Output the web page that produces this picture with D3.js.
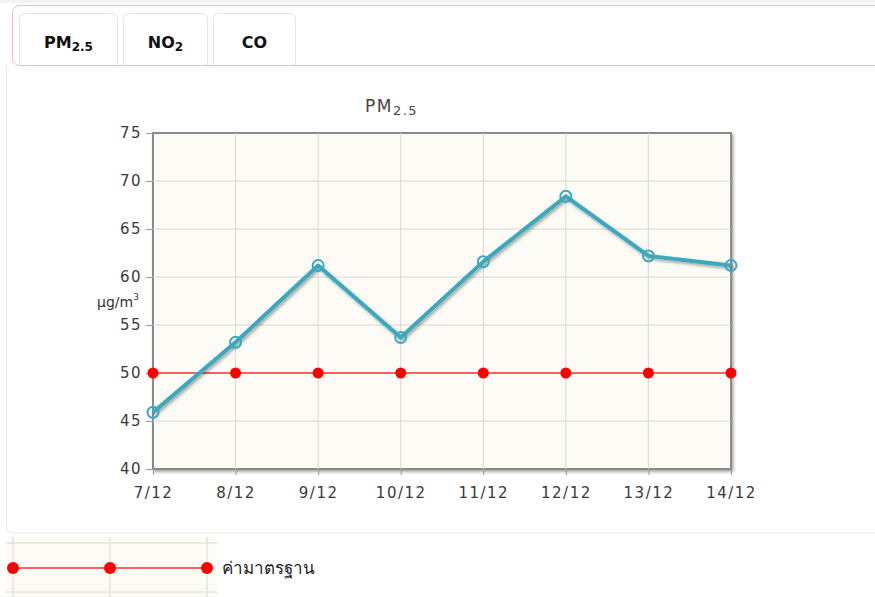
<!DOCTYPE html>
<html>
<head>
<meta charset="utf-8">
<script src="https://cdn.jsdelivr.net/npm/d3@7"></script>
<style>
  html, body { margin: 0; padding: 0; background: #fff; }
  body { width: 875px; height: 597px; overflow: hidden; }
</style>
</head>
<body>
<div id="chart"></div>
<script>
// Data
const days = ["7/12", "8/12", "9/12", "10/12", "11/12", "12/12", "13/12", "14/12"];
const pm25 = [45.9, 53.2, 61.2, 53.7, 61.6, 68.4, 62.2, 61.2];
const standard = [50, 50, 50, 50, 50, 50, 50, 50];
const yTicks = [40, 45, 50, 55, 60, 65, 70, 75];
const tabs = ["PM", "NO", "CO"];
const tabSubs = ["2.5", "2", ""];
const legendLabel = "ค่ามาตรฐาน";

const W = 875,
  H = 597;
const font = "'DejaVu Sans', 'Noto Sans', sans-serif";

const svg = d3
  .select("#chart")
  .append("svg")
  .attr("width", W)
  .attr("height", H)
  .style("font-family", font);

/*******************************************************
 *                    Page frame                       *
 *******************************************************/

const defs = svg.append("defs");
const shadow = defs.append("filter").attr("id", "shadow").attr("x", "-10%").attr("y", "-10%").attr("width", "130%").attr("height", "130%");
shadow.append("feDropShadow").attr("dx", 1.5).attr("dy", 2).attr("stdDeviation", 1.5).attr("flood-color", "#000").attr("flood-opacity", 0.35);

svg.append("rect").attr("x", 0).attr("y", 0).attr("width", W).attr("height", 3).attr("fill", "#f3f3f3");

// content panel (only left and bottom edges show)
svg
  .append("path")
  .attr("d", "M6.5,65 L6.5,526 Q6.5,533 13.5,533 L" + (W + 10) + ",533")
  .attr("fill", "none")
  .attr("stroke", "#e9e9e9");

// tab bar
svg
  .append("rect")
  .attr("x", 12.5)
  .attr("y", 5.5)
  .attr("width", W + 20)
  .attr("height", 60)
  .attr("rx", 7)
  .attr("fill", "#fff")
  .attr("stroke", "#efbcbc");

const tabX = [19, 123, 213],
  tabW = [98, 84, 82];
tabs.forEach((t, i) => {
  const x0 = tabX[i] + 0.5,
    w = tabW[i],
    y0 = 13.5,
    r = 6;
  svg
    .append("path")
    .attr(
      "d",
      `M${x0},65 L${x0},${y0 + r} Q${x0},${y0} ${x0 + r},${y0} L${x0 + w - r},${y0} Q${x0 + w},${y0} ${x0 + w},${y0 + r} L${x0 + w},65`
    )
    .attr("fill", "#fff")
    .attr("stroke", "#e4e4e4");
  const txt = svg
    .append("text")
    .attr("x", x0 + w / 2)
    .attr("y", 48)
    .attr("text-anchor", "middle")
    .attr("font-size", 16)
    .attr("font-weight", "bold")
    .attr("fill", "#111");
  txt.append("tspan").text(t);
  if (tabSubs[i]) txt.append("tspan").attr("font-size", 12).attr("dy", 3).text(tabSubs[i]);
});

/*******************************************************
 *                      Chart                          *
 *******************************************************/

const plot = { left: 153, right: 731, top: 133, bottom: 469 };

const x = d3.scalePoint().domain(days).range([plot.left, plot.right]);
const y = d3.scaleLinear().domain([40, 75]).range([plot.bottom, plot.top]);

svg
  .append("rect")
  .attr("x", plot.left)
  .attr("y", plot.top)
  .attr("width", plot.right - plot.left)
  .attr("height", plot.bottom - plot.top)
  .attr("fill", "#fdfbf5")
  .attr("stroke", "#8a8a8a")
  .attr("stroke-width", 2)
  .attr("filter", "url(#shadow)");

const grid = svg.append("g").attr("stroke", "#dcd8d2").attr("stroke-width", 1);
grid
  .selectAll(".vg")
  .data(days.slice(1, -1))
  .enter()
  .append("line")
  .attr("x1", (d) => x(d))
  .attr("x2", (d) => x(d))
  .attr("y1", plot.top)
  .attr("y2", plot.bottom);
grid
  .selectAll(".hg")
  .data(yTicks.slice(1, -1))
  .enter()
  .append("line")
  .attr("x1", plot.left)
  .attr("x2", plot.right)
  .attr("y1", (d) => y(d))
  .attr("y2", (d) => y(d));

// axes
const yAxis = svg
  .append("g")
  .attr("transform", "translate(" + plot.left + ",0)")
  .call(d3.axisLeft(y).tickValues(yTicks).tickSize(7).tickPadding(4));
const xAxis = svg
  .append("g")
  .attr("transform", "translate(0," + plot.bottom + ")")
  .call(d3.axisBottom(x).tickSize(6).tickPadding(12));
[xAxis, yAxis].forEach((a) => {
  a.select(".domain").remove();
  a.selectAll("line").attr("stroke", "#999");
  a.selectAll("text")
    .attr("fill", "#3a3a3a")
    .attr("font-size", 15)
    .attr("letter-spacing", 1.5)
    .attr("font-family", font);
});

// title
const title = svg
  .append("text")
  .attr("x", 365)
  .attr("y", 112)
  .attr("font-size", 17)
  .attr("letter-spacing", 1.5)
  .attr("fill", "#444");
title.append("tspan").text("PM");
title.append("tspan").attr("font-size", 13).attr("dy", 3).text("2.5");

// unit
const unit = svg.append("text").attr("x", 97).attr("y", 307).attr("font-size", 14).attr("fill", "#333");
unit.append("tspan").text("µg/m");
unit.append("tspan").attr("font-size", 9).attr("dy", -7).text("3");

// standard line
const stdLine = d3
  .line()
  .x((d, i) => x(days[i]))
  .y((d) => y(d));

svg
  .append("path")
  .datum(standard)
  .attr("d", stdLine)
  .attr("fill", "none")
  .attr("stroke", "#f53535")
  .attr("stroke-width", 1.5);
svg
  .selectAll(".std")
  .data(standard)
  .enter()
  .append("circle")
  .attr("cx", (d, i) => x(days[i]))
  .attr("cy", (d) => y(d))
  .attr("r", 5.5)
  .attr("fill", "#ff0000");

// PM2.5 series
svg
  .append("path")
  .datum(pm25)
  .attr("d", stdLine)
  .attr("fill", "none")
  .attr("stroke", "#3ba9bd")
  .attr("stroke-width", 4)
  .attr("stroke-linejoin", "round")
  .attr("filter", "url(#shadow)");
svg
  .selectAll(".pm")
  .data(pm25)
  .enter()
  .append("circle")
  .attr("cx", (d, i) => x(days[i]))
  .attr("cy", (d) => y(d))
  .attr("r", 5.5)
  .attr("fill", "none")
  .attr("stroke", "#3ba9bd")
  .attr("stroke-width", 2);

/*******************************************************
 *                      Legend                         *
 *******************************************************/

const lg = svg.append("g");
lg.append("rect").attr("x", 6).attr("y", 537).attr("width", 211).attr("height", 60).attr("fill", "#fdfbf5");
const lx = [13, 110, 207];
lx.forEach((v) =>
  lg.append("line").attr("x1", v).attr("x2", v).attr("y1", 537).attr("y2", 597).attr("stroke", "#dcd8d2")
);
[543, 592].forEach((v) =>
  lg.append("line").attr("x1", 6).attr("x2", 217).attr("y1", v).attr("y2", v).attr("stroke", "#dcd8d2")
);
lg.append("line").attr("x1", 13).attr("x2", 207).attr("y1", 568).attr("y2", 568).attr("stroke", "#f53535").attr("stroke-width", 1.5);
lx.forEach((v) => lg.append("circle").attr("cx", v).attr("cy", 568).attr("r", 6).attr("fill", "#ff0000"));
lg.append("text")
  .attr("x", 222)
  .attr("y", 574)
  .attr("font-size", 17)
  .attr("fill", "#222")
  .text(legendLabel);
</script>
</body>
</html>
